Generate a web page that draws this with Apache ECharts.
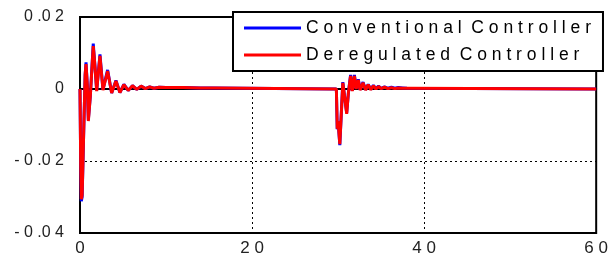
<!DOCTYPE html>
<html>
<head>
<meta charset="utf-8">
<script src="https://cdn.jsdelivr.net/npm/echarts@6/dist/echarts.min.js"></script>
<style>
html,body{margin:0;padding:0;background:#fff;}
#chart{width:611px;height:260px;}
</style>
</head>
<body>
<div id="chart"></div>
<script>
// Time stamps (s) and responses
var timeConv = [0, 0.02, 0.08, 0.15, 0.25, 0.45, 0.6, 0.7, 0.85, 0.97, 1.2, 1.54, 1.75, 1.94, 2.32, 2.67, 3.21, 3.68, 4.18, 4.64, 5.1, 5.6, 6.1, 6.6, 7.1, 7.6, 8.1, 8.6, 9.2, 10, 12, 14, 15.3, 15.4,
  29.8, 29.9, 30.0, 30.2, 30.35, 30.55, 30.75, 31.0, 31.2, 31.45, 31.65, 31.9, 32.1, 32.35, 32.55, 32.9, 33.2, 33.5, 33.8, 34.1, 34.4, 34.7, 35.0, 35.4, 35.8, 36.2, 36.6, 37.0, 37.5, 38.0, 38.2, 60];
var conventional = [0, -0.005, -0.021, -0.0312, -0.030, -0.010, 0.004, 0.0074, 0.001, -0.0086, -0.002, 0.0126, 0.006, -0.0004, 0.0096, -0.0002, 0.0053, -0.0011, 0.0024, -0.0010, 0.0013, -0.0004, 0.0009, -0.0001, 0.0008, 0.0001, 0.0006, 0.0002, 0.0005, 0.0004, 0.0004, 0.0003, 0.0003, 0,
  0, -0.0112, -0.009, -0.0156, -0.008, 0.0019, -0.002, -0.0066, -0.001, 0.0039, -0.0005, 0.0039, 0.0001, 0.0027, -0.0002, 0.0019, -0.0002, 0.0013, -0.0001, 0.001, 0.0001, 0.0008, 0.0002, 0.0006, 0.0002, 0.0005, 0.0002, 0.0004, 0.0003, 0.0002, 0, 0];

var timeDereg = [0, 0.02, 0.08, 0.15, 0.25, 0.45, 0.6, 0.7, 0.85, 0.97, 1.2, 1.54, 1.75, 1.94, 2.32, 2.67, 3.21, 3.68, 4.18, 4.64, 5.1, 5.6, 6.1, 6.6, 7.1, 7.6, 8.1, 8.6, 9.2, 10, 12, 14, 15.9, 16.0,
  29.8, 29.9, 30.0, 30.2, 30.35, 30.55, 30.75, 31.0, 31.2, 31.45, 31.65, 31.9, 32.1, 32.35, 32.55, 32.9, 33.2, 33.5, 33.8, 34.1, 34.4, 34.7, 35.0, 35.4, 35.8, 36.2, 36.6, 37.0, 37.5, 38.0, 38.2, 60];
var deregulated = [0, -0.005, -0.021, -0.0306, -0.0295, -0.010, 0.004, 0.0069, 0.001, -0.0089, -0.002, 0.0119, 0.006, -0.0006, 0.0092, -0.0003, 0.0050, -0.0011, 0.0022, -0.0010, 0.0012, -0.0004, 0.0009, -0.0001, 0.0008, 0.0001, 0.0006, 0.0002, 0.0005, 0.0004, 0.0004, 0.0003, 0.0003, 0,
  0, -0.011, -0.009, -0.0153, -0.008, 0.0017, -0.002, -0.0069, -0.001, 0.0036, -0.0006, 0.0036, 0, 0.0025, -0.0003, 0.0017, -0.0003, 0.0012, -0.0002, 0.0009, 0, 0.0007, 0.0001, 0.0005, 0.0001, 0.0004, 0.0001, 0.0003, 0.0002, 0.0002, 0, 0];

var seriesNames = ['Conventional Controller', 'Deregulated Controller'];
var xTicks = [0, 20, 40, 60];
var yTicks = [-0.04, -0.02, 0, 0.02];

function pairs(t, v) { return t.map(function (x, i) { return [x, v[i]]; }); }
function spaced(s) { return s.split('').join(' '); }
function spacedLegend(s) { return s.split(' ').map(spaced).join('  '); }

var FONT = '"Liberation Sans", Arial, sans-serif';

var chart = echarts.init(document.getElementById('chart'));
chart.setOption({
  animation: false,
  backgroundColor: '#fff',
  grid: { left: 80, right: 14, top: 17, bottom: 27, show: true, borderColor: '#000', borderWidth: 2, backgroundColor: 'transparent' },
  legend: {
    left: 233, top: 12,
    orient: 'vertical',
    backgroundColor: '#fff',
    borderColor: '#000', borderWidth: 2, borderRadius: 0,
    padding: [7, 12, 7, 11],
    itemGap: 9,
    icon: 'rect',
    itemWidth: 57, itemHeight: 3,
    textStyle: { fontFamily: FONT, fontSize: 17.5, color: '#000', width: 277, lineHeight: 18 },
    formatter: function (n) { return spacedLegend(n); },
    data: seriesNames
  },
  xAxis: {
    type: 'value', min: xTicks[0], max: xTicks[xTicks.length - 1], interval: 20,
    axisLine: { show: true, lineStyle: { color: '#000', width: 2 } },
    axisTick: { show: false },
    axisLabel: { color: '#222', fontFamily: FONT, fontSize: 17, margin: 7, formatter: function (v) { return spaced(String(v)); } },
    splitLine: { show: true, lineStyle: { color: '#000', type: [2, 3], width: 1 } }
  },
  yAxis: {
    type: 'value', min: yTicks[0], max: yTicks[yTicks.length - 1], interval: 0.02,
    axisLine: { show: true, lineStyle: { color: '#000', width: 2 } },
    axisTick: { show: false },
    axisLabel: { color: '#222', fontFamily: FONT, fontSize: 16, margin: 16,
      formatter: function (v) {
        if (Math.abs(v) < 1e-9) return '0';
        return spaced(v.toFixed(2)).replace('. ', '.');
      } },
    splitLine: { show: true, lineStyle: { color: '#000', type: [2, 3], width: 1 } }
  },
  series: [
    { name: seriesNames[0], type: 'line', data: pairs(timeConv, conventional), showSymbol: false, symbol: 'none',
      lineStyle: { color: '#0000ff', width: 3 }, itemStyle: { color: '#0000ff' }, z: 3 },
    { name: seriesNames[1], type: 'line', data: pairs(timeDereg, deregulated), showSymbol: false, symbol: 'none',
      lineStyle: { color: '#ff0000', width: 3 }, itemStyle: { color: '#ff0000' }, z: 4 }
  ]
});
</script>
</body>
</html>
